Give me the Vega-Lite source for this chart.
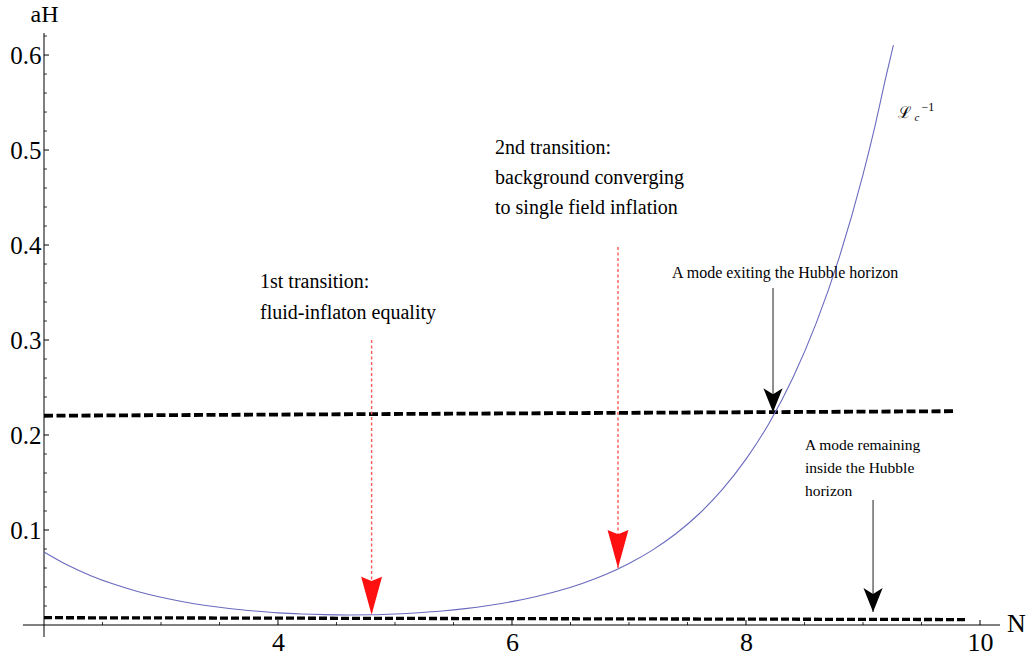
{
  "$schema": "https://vega.github.io/schema/vega-lite/v6.json",
  "width": 956,
  "height": 592,
  "autosize": {"type": "none"},
  "padding": {"left": 44, "top": 33, "right": 30, "bottom": 32},
  "background": "white",
  "config": {
    "view": {"stroke": null},
    "axis": {"labelFont": "Liberation Serif", "titleFont": "Liberation Serif", "labelColor": "black", "titleColor": "black", "titleFontWeight": "normal"}
  },
  "datasets": {
    "curve": [
      {"N": 2.0, "aH": 0.0769}, {"N": 2.2, "aH": 0.0631}, {"N": 2.4, "aH": 0.0519}, {"N": 2.6, "aH": 0.0428},
      {"N": 2.8, "aH": 0.0353}, {"N": 3.0, "aH": 0.0292}, {"N": 3.2, "aH": 0.0243}, {"N": 3.4, "aH": 0.0203},
      {"N": 3.6, "aH": 0.0171}, {"N": 3.8, "aH": 0.0147}, {"N": 4.0, "aH": 0.0128}, {"N": 4.2, "aH": 0.0116},
      {"N": 4.4, "aH": 0.0109}, {"N": 4.6, "aH": 0.0106}, {"N": 4.8, "aH": 0.0108}, {"N": 5.0, "aH": 0.0116},
      {"N": 5.2, "aH": 0.0129}, {"N": 5.4, "aH": 0.0147}, {"N": 5.6, "aH": 0.0172}, {"N": 5.8, "aH": 0.0205},
      {"N": 6.0, "aH": 0.0246}, {"N": 6.2, "aH": 0.0297}, {"N": 6.4, "aH": 0.036}, {"N": 6.6, "aH": 0.0437},
      {"N": 6.8, "aH": 0.0531}, {"N": 7.0, "aH": 0.0647}, {"N": 7.2, "aH": 0.0788}, {"N": 7.4, "aH": 0.096},
      {"N": 7.6, "aH": 0.1171}, {"N": 7.8, "aH": 0.143}, {"N": 8.0, "aH": 0.1746}, {"N": 8.2, "aH": 0.213},
      {"N": 8.4, "aH": 0.2601}, {"N": 8.6, "aH": 0.3178}, {"N": 8.8, "aH": 0.3881}, {"N": 9.0, "aH": 0.474},
      {"N": 9.1, "aH": 0.5239}, {"N": 9.2, "aH": 0.579}, {"N": 9.26, "aH": 0.6105}
    ],
    "hlines": [
      {"line": "upper", "N": 2.0, "aH": 0.2203}, {"line": "upper", "N": 9.79, "aH": 0.2251},
      {"line": "lower", "N": 2.0, "aH": 0.0077}, {"line": "lower", "N": 9.89, "aH": 0.0057}
    ],
    "arrows": [
      {"kind": "red", "N": 4.8, "from": 0.3, "tip": 0.0108},
      {"kind": "red", "N": 6.906, "from": 0.398, "tip": 0.06},
      {"kind": "black", "N": 8.231, "from": 0.3547, "tip": 0.224},
      {"kind": "black", "N": 9.086, "from": 0.1316, "tip": 0.0137}
    ],
    "axes": [
      {"N": 1.82, "N2": 10.171, "aH": 0, "aH2": 0},
      {"N": 2, "N2": 2, "aH": -0.0126, "aH2": 0.6232}
    ],
    "xticks": [
      {"v": 2.5, "k": "minor"}, {"v": 3.0, "k": "minor"}, {"v": 3.5, "k": "minor"}, {"v": 4.0, "k": "major"},
      {"v": 4.5, "k": "minor"}, {"v": 5.0, "k": "minor"}, {"v": 5.5, "k": "minor"}, {"v": 6.0, "k": "major"},
      {"v": 6.5, "k": "minor"}, {"v": 7.0, "k": "minor"}, {"v": 7.5, "k": "minor"}, {"v": 8.0, "k": "major"},
      {"v": 8.5, "k": "minor"}, {"v": 9.0, "k": "minor"}, {"v": 9.5, "k": "minor"}, {"v": 10.0, "k": "major"}
    ],
    "yticks": [
      {"v": 0.02, "k": "minor"}, {"v": 0.04, "k": "minor"}, {"v": 0.06, "k": "minor"}, {"v": 0.08, "k": "minor"},
      {"v": 0.1, "k": "major"}, {"v": 0.12, "k": "minor"}, {"v": 0.14, "k": "minor"}, {"v": 0.16, "k": "minor"},
      {"v": 0.18, "k": "minor"}, {"v": 0.2, "k": "major"}, {"v": 0.22, "k": "minor"}, {"v": 0.24, "k": "minor"},
      {"v": 0.26, "k": "minor"}, {"v": 0.28, "k": "minor"}, {"v": 0.3, "k": "major"}, {"v": 0.32, "k": "minor"},
      {"v": 0.34, "k": "minor"}, {"v": 0.36, "k": "minor"}, {"v": 0.38, "k": "minor"}, {"v": 0.4, "k": "major"},
      {"v": 0.42, "k": "minor"}, {"v": 0.44, "k": "minor"}, {"v": 0.46, "k": "minor"}, {"v": 0.48, "k": "minor"},
      {"v": 0.5, "k": "major"}, {"v": 0.52, "k": "minor"}, {"v": 0.54, "k": "minor"}, {"v": 0.56, "k": "minor"},
      {"v": 0.58, "k": "minor"}, {"v": 0.6, "k": "major"}, {"v": 0.62, "k": "minor"}
    ],
    "labels": [
      {"g": "t", "N": 3.846, "aH": 0.3611, "text": "1st transition:"},
      {"g": "t", "N": 3.846, "aH": 0.3284, "text": "fluid-inflaton equality"},
      {"g": "t", "N": 5.855, "aH": 0.5021, "text": "2nd transition:"},
      {"g": "t", "N": 5.855, "aH": 0.4705, "text": "background converging"},
      {"g": "t", "N": 5.855, "aH": 0.4389, "text": "to single field inflation"},
      {"g": "e", "N": 7.368, "aH": 0.3705, "text": "A mode exiting the Hubble horizon"},
      {"g": "r", "N": 8.504, "aH": 0.1895, "text": "A mode remaining"},
      {"g": "r", "N": 8.504, "aH": 0.1653, "text": "inside the Hubble"},
      {"g": "r", "N": 8.504, "aH": 0.1411, "text": "horizon"},
      {"g": "L", "N": 9.3, "aH": 0.539, "text": "ℒ"},
      {"g": "c", "N": 9.44, "aH": 0.5337, "text": "c"},
      {"g": "s", "N": 9.5, "aH": 0.5452, "text": "−1"}
    ]
  },
  "layer": [
    {
      "data": {"name": "axes"},
      "mark": {"type": "rule", "color": "black", "strokeWidth": 1},
      "encoding": {
        "x": {"field": "N", "type": "quantitative", "scale": {"domain": [2, 10.171], "nice": false, "zero": false},
          "axis": {"values": [4, 6, 8, 10], "format": "d", "domain": false, "ticks": false, "grid": false, "labelFont": "Liberation Serif",
            "labelFontSize": 26, "labelColor": "black", "labelPadding": 4, "labelFlush": false,
            "title": "N", "titleFont": "Liberation Serif", "titleFontSize": 26, "titleFontWeight": "normal", "titleColor": "black",
            "titleX": 972, "titleY": -1.5, "titleAlign": "center", "titleBaseline": "middle", "titleAngle": 0}},
        "x2": {"field": "N2"},
        "y": {"field": "aH", "type": "quantitative", "scale": {"domain": [0, 0.6232], "nice": false, "zero": false},
          "axis": {"values": [0.1, 0.2, 0.3, 0.4, 0.5, 0.6], "format": ".1f", "domain": false, "ticks": false, "grid": false,
            "labelFont": "Liberation Serif", "labelFontSize": 25, "labelColor": "black", "labelPadding": 3, "labelFlush": false,
            "title": "aH", "titleFont": "Liberation Serif", "titleFontSize": 24, "titleFontWeight": "normal", "titleColor": "black",
            "titleX": 0, "titleY": -19, "titleAlign": "center", "titleBaseline": "middle", "titleAngle": 0}},
        "y2": {"field": "aH2"}
      }
    },
    {
      "data": {"name": "xticks"},
      "transform": [{"filter": "datum.k === 'major'"}],
      "mark": {"type": "rule", "color": "black", "strokeWidth": 1, "y2Offset": -5},
      "encoding": {
        "x": {"field": "v", "type": "quantitative"},
        "y": {"datum": 0, "type": "quantitative"},
        "y2": {"datum": 0}
      }
    },
    {
      "data": {"name": "xticks"},
      "transform": [{"filter": "datum.k === 'minor'"}],
      "mark": {"type": "rule", "color": "black", "strokeWidth": 0.8, "y2Offset": -3},
      "encoding": {
        "x": {"field": "v", "type": "quantitative"},
        "y": {"datum": 0, "type": "quantitative"},
        "y2": {"datum": 0}
      }
    },
    {
      "data": {"name": "yticks"},
      "transform": [{"filter": "datum.k === 'major'"}],
      "mark": {"type": "rule", "color": "black", "strokeWidth": 1, "x2Offset": 5},
      "encoding": {
        "y": {"field": "v", "type": "quantitative"},
        "x": {"datum": 2, "type": "quantitative"},
        "x2": {"datum": 2}
      }
    },
    {
      "data": {"name": "yticks"},
      "transform": [{"filter": "datum.k === 'minor'"}],
      "mark": {"type": "rule", "color": "black", "strokeWidth": 0.8, "x2Offset": 3},
      "encoding": {
        "y": {"field": "v", "type": "quantitative"},
        "x": {"datum": 2, "type": "quantitative"},
        "x2": {"datum": 2}
      }
    },
    {
      "data": {"name": "hlines"},
      "transform": [{"filter": "datum.line === 'upper'"}],
      "mark": {"type": "line", "color": "black", "strokeWidth": 3.8, "strokeDash": [9, 3.5]},
      "encoding": {
        "x": {"field": "N", "type": "quantitative"},
        "y": {"field": "aH", "type": "quantitative"}
      }
    },
    {
      "data": {"name": "hlines"},
      "transform": [{"filter": "datum.line === 'lower'"}],
      "mark": {"type": "line", "color": "black", "strokeWidth": 3.3, "strokeDash": [8, 3]},
      "encoding": {
        "x": {"field": "N", "type": "quantitative"},
        "y": {"field": "aH", "type": "quantitative"}
      }
    },
    {
      "data": {"name": "curve"},
      "mark": {"type": "line", "color": "#6a6abf", "strokeWidth": 1.1, "interpolate": "monotone"},
      "encoding": {
        "x": {"field": "N", "type": "quantitative"},
        "y": {"field": "aH", "type": "quantitative"}
      }
    },
    {
      "data": {"name": "arrows"},
      "transform": [{"filter": "datum.kind === 'red'"}],
      "mark": {"type": "rule", "color": "#ff5a5a", "strokeWidth": 1.4, "strokeDash": [3, 2.5]},
      "encoding": {
        "x": {"field": "N", "type": "quantitative"},
        "y": {"field": "from", "type": "quantitative"},
        "y2": {"field": "tip"}
      }
    },
    {
      "data": {"name": "arrows"},
      "transform": [{"filter": "datum.kind === 'black'"}],
      "mark": {"type": "rule", "color": "#333333", "strokeWidth": 1.1},
      "encoding": {
        "x": {"field": "N", "type": "quantitative"},
        "y": {"field": "from", "type": "quantitative"},
        "y2": {"field": "tip"}
      }
    },
    {
      "data": {"name": "arrows"},
      "transform": [{"filter": "datum.kind === 'red'"}],
      "mark": {"type": "point", "filled": true, "color": "#ff1010", "opacity": 1, "size": 1444,
        "shape": "M -0.55 -1 L 0 -0.78 L 0.55 -1 L 0 1 Z", "yOffset": -19, "strokeWidth": 0},
      "encoding": {
        "x": {"field": "N", "type": "quantitative"},
        "y": {"field": "tip", "type": "quantitative"}
      }
    },
    {
      "data": {"name": "arrows"},
      "transform": [{"filter": "datum.kind === 'black'"}],
      "mark": {"type": "point", "filled": true, "color": "black", "opacity": 1, "size": 576,
        "shape": "M -0.8 -1 L 0 -0.5 L 0.8 -1 L 0 1 Z", "yOffset": -12, "strokeWidth": 0},
      "encoding": {
        "x": {"field": "N", "type": "quantitative"},
        "y": {"field": "tip", "type": "quantitative"}
      }
    },
    {
      "data": {"name": "labels"},
      "transform": [{"filter": "datum.g === 't'"}],
      "mark": {"type": "text", "align": "left", "baseline": "middle", "font": "Liberation Serif", "fontSize": 20, "color": "black"},
      "encoding": {
        "x": {"field": "N", "type": "quantitative"},
        "y": {"field": "aH", "type": "quantitative"},
        "text": {"field": "text"}
      }
    },
    {
      "data": {"name": "labels"},
      "transform": [{"filter": "datum.g === 'e'"}],
      "mark": {"type": "text", "align": "left", "baseline": "middle", "font": "Liberation Serif", "fontSize": 16, "color": "black"},
      "encoding": {
        "x": {"field": "N", "type": "quantitative"},
        "y": {"field": "aH", "type": "quantitative"},
        "text": {"field": "text"}
      }
    },
    {
      "data": {"name": "labels"},
      "transform": [{"filter": "datum.g === 'r'"}],
      "mark": {"type": "text", "align": "left", "baseline": "middle", "font": "Liberation Serif", "fontSize": 15.5, "color": "black"},
      "encoding": {
        "x": {"field": "N", "type": "quantitative"},
        "y": {"field": "aH", "type": "quantitative"},
        "text": {"field": "text"}
      }
    },
    {
      "data": {"name": "labels"},
      "transform": [{"filter": "datum.g === 'L'"}],
      "mark": {"type": "text", "align": "left", "baseline": "middle", "font": "DejaVu Serif", "fontSize": 16, "color": "black"},
      "encoding": {
        "x": {"field": "N", "type": "quantitative"},
        "y": {"field": "aH", "type": "quantitative"},
        "text": {"field": "text"}
      }
    },
    {
      "data": {"name": "labels"},
      "transform": [{"filter": "datum.g === 'c'"}],
      "mark": {"type": "text", "align": "left", "baseline": "middle", "font": "Liberation Serif", "fontStyle": "italic", "fontSize": 11, "color": "black"},
      "encoding": {
        "x": {"field": "N", "type": "quantitative"},
        "y": {"field": "aH", "type": "quantitative"},
        "text": {"field": "text"}
      }
    },
    {
      "data": {"name": "labels"},
      "transform": [{"filter": "datum.g === 's'"}],
      "mark": {"type": "text", "align": "left", "baseline": "middle", "font": "Liberation Serif", "fontSize": 12, "color": "black"},
      "encoding": {
        "x": {"field": "N", "type": "quantitative"},
        "y": {"field": "aH", "type": "quantitative"},
        "text": {"field": "text"}
      }
    }
  ]
}
